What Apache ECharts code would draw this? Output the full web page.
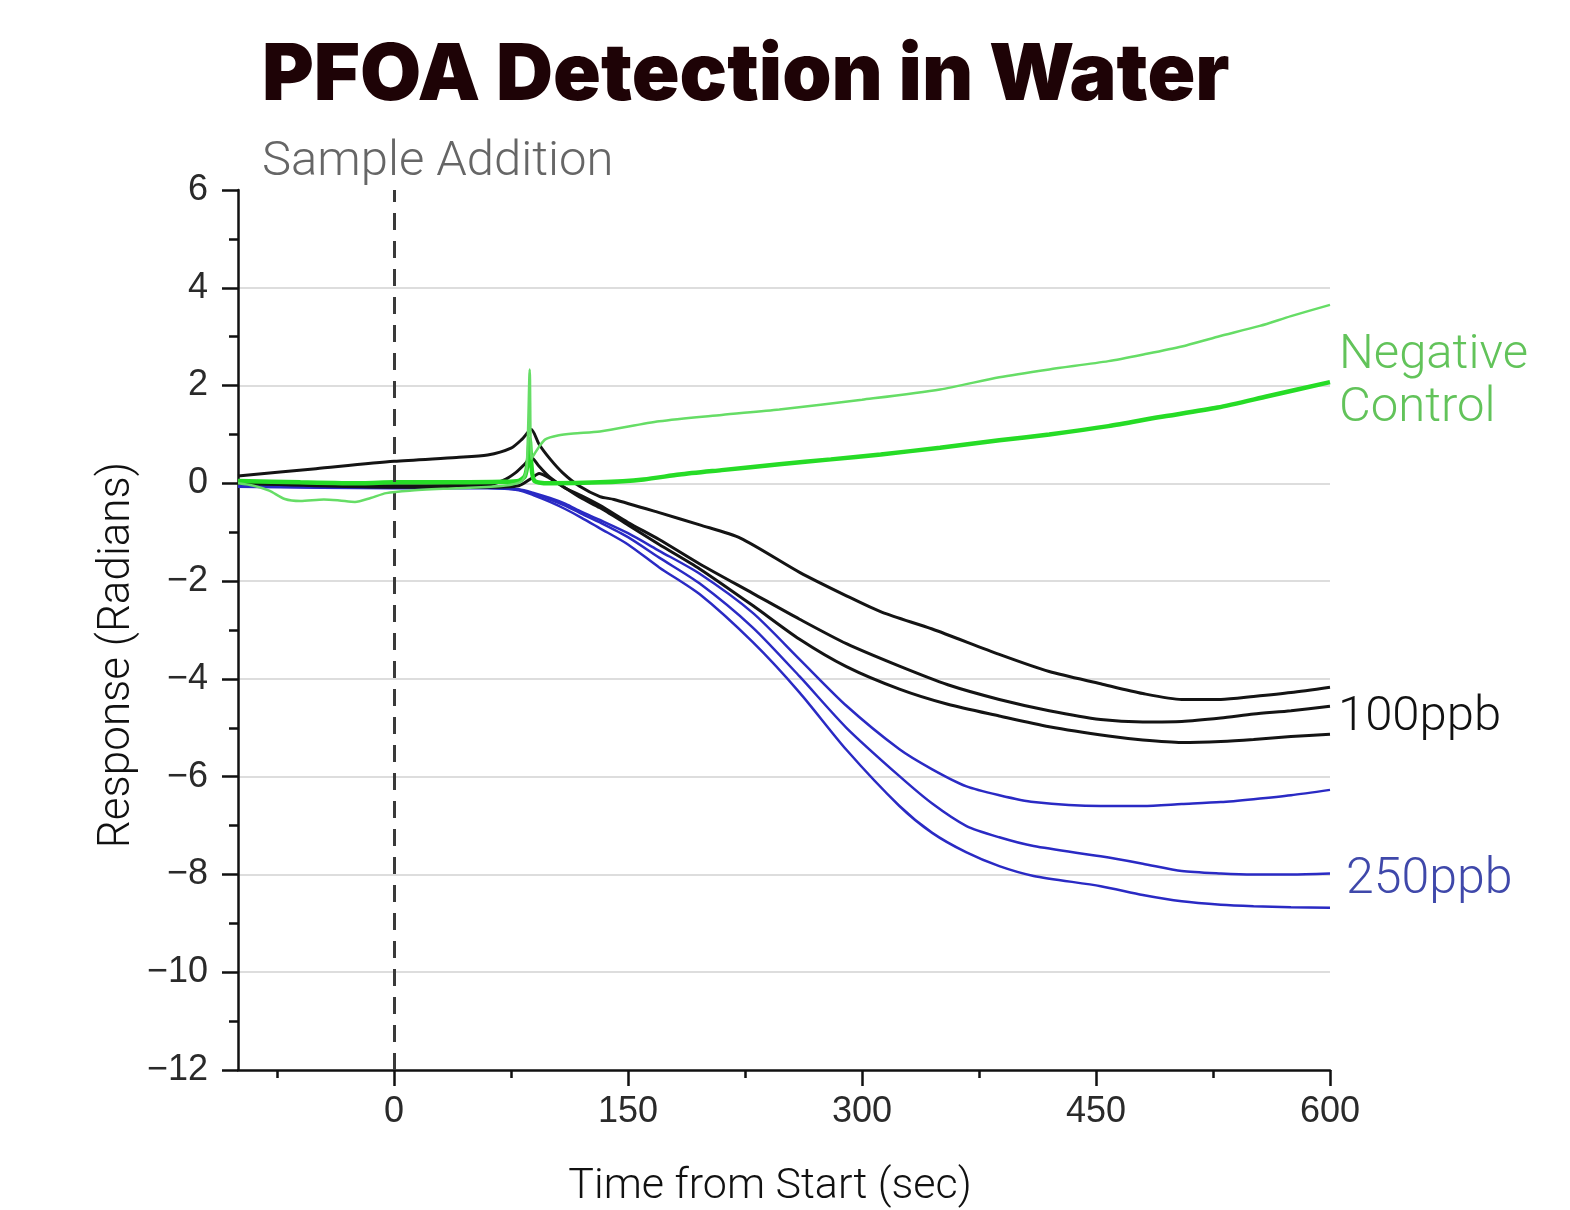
<!DOCTYPE html>
<html>
<head>
<meta charset="utf-8">
<script src="https://cdn.jsdelivr.net/npm/echarts@6/dist/echarts.min.js"></script>
<style>
html,body{margin:0;padding:0;background:#fff;}
#chart{width:1570px;height:1210px;}
</style>
</head>
<body>
<div id="chart"></div>
<script>
// ---- tick labels ----
const xMajorTicks = [0, 150, 300, 450, 600];
const xMinorTicks = [-75, 75, 225, 375, 525];

// ---- Negative control (thin, upper) ----
const negThinT = [-100, -90, -80, -70, -60, -45, -35, -25, -15, -5, 10, 40, 70, 82, 85, 87, 88, 90, 93, 97, 105, 115, 132, 170, 210, 247, 300, 350, 388, 420, 458, 481, 505, 528, 555, 575, 600];
const negThinY = [0.0, -0.05, -0.15, -0.32, -0.36, -0.33, -0.35, -0.38, -0.3, -0.2, -0.15, -0.1, -0.05, 0.05, 0.3, 2.33, 0.5, 0.6, 0.75, 0.9, 0.98, 1.02, 1.06, 1.27, 1.4, 1.51, 1.71, 1.92, 2.17, 2.33, 2.5, 2.64, 2.8, 3.0, 3.22, 3.42, 3.65];

// ---- Negative control (thick, lower) ----
const negThickT = [-100, -60, -20, 0, 40, 70, 80, 84, 86, 87, 88, 90, 100, 132, 160, 183, 210, 247, 280, 312, 350, 388, 420, 458, 490, 528, 560, 600];
const negThickY = [0.05, 0.02, 0.0, 0.02, 0.02, 0.03, 0.05, 0.15, 0.5, 0.9, 0.4, 0.05, 0.0, 0.02, 0.08, 0.18, 0.27, 0.39, 0.49, 0.59, 0.73, 0.88, 1.0, 1.17, 1.35, 1.55, 1.78, 2.07];

// ---- 100 ppb (black) ----
const b1T = [-100, -50, 0, 40, 60, 75, 82, 88, 93, 100, 108, 119, 132, 141, 170, 196, 222, 260, 290, 313, 345, 388, 420, 453, 480, 505, 530, 551, 575, 600];
const b1Y = [0.15, 0.3, 0.45, 0.53, 0.58, 0.72, 0.9, 1.1, 0.8, 0.5, 0.22, -0.06, -0.27, -0.33, -0.6, -0.85, -1.12, -1.82, -2.3, -2.64, -2.98, -3.5, -3.85, -4.1, -4.3, -4.42, -4.42, -4.36, -4.28, -4.17];

const b2T = [-100, 0, 60, 70, 78, 84, 88, 93, 100, 110, 120, 132, 150, 170, 196, 230, 260, 290, 324, 355, 388, 420, 453, 480, 505, 530, 551, 575, 600];
const b2Y = [0.0, -0.05, -0.03, 0.06, 0.22, 0.4, 0.53, 0.35, 0.12, -0.1, -0.25, -0.45, -0.8, -1.15, -1.65, -2.25, -2.78, -3.28, -3.74, -4.12, -4.42, -4.65, -4.83, -4.88, -4.87, -4.8, -4.72, -4.65, -4.56];

const b3T = [-100, 0, 60, 80, 88, 93, 100, 110, 120, 132, 150, 170, 196, 230, 260, 290, 324, 355, 388, 420, 458, 480, 505, 530, 551, 575, 600];
const b3Y = [0.0, -0.08, -0.08, -0.05, 0.1, 0.2, 0.1, -0.1, -0.3, -0.5, -0.85, -1.25, -1.75, -2.5, -3.19, -3.75, -4.21, -4.52, -4.76, -4.98, -5.17, -5.25, -5.3, -5.28, -5.24, -5.18, -5.13];

// ---- 250 ppb (blue) ----
const blueT = [-100, 0, 60, 80, 90, 100, 110, 120, 132, 150, 170, 196, 230, 260, 290, 324, 345, 367, 388, 410, 453, 480, 505, 530, 551, 575, 600];
const u1Y = [-0.06, -0.08, -0.08, -0.12, -0.2, -0.3, -0.42, -0.58, -0.75, -1.02, -1.38, -1.85, -2.65, -3.6, -4.55, -5.44, -5.85, -6.2, -6.38, -6.52, -6.6, -6.6, -6.56, -6.52, -6.46, -6.38, -6.27];
const u2Y = [-0.06, -0.09, -0.09, -0.13, -0.22, -0.33, -0.46, -0.62, -0.8, -1.1, -1.52, -2.05, -2.95, -3.95, -5.0, -5.99, -6.55, -7.01, -7.24, -7.42, -7.63, -7.78, -7.93, -7.98, -8.0, -8.0, -7.98];
const u3Y = [-0.07, -0.1, -0.1, -0.14, -0.25, -0.38, -0.53, -0.7, -0.92, -1.25, -1.72, -2.27, -3.25, -4.28, -5.45, -6.6, -7.15, -7.55, -7.83, -8.03, -8.24, -8.42, -8.55, -8.62, -8.65, -8.67, -8.68];

const pair = (T, Y) => T.map((t, i) => [t, Y[i]]);

const BLACK = '#141414', BLUE = '#2a2ac4', GREEN_THIN = '#66dd66', GREEN_THICK = '#26dc26';
const lineSeries = (name, T, Y, color, width, z) => ({
  name, type: 'line', data: pair(T, Y), showSymbol: false, symbol: 'none',
  smooth: 0.25, z: z,
  lineStyle: { color: color, width: width }, silent: true
});

const chart = echarts.init(document.getElementById('chart'), null, { renderer: 'canvas' });

const series = [
  lineSeries('250ppb a', blueT, u1Y, BLUE, 2.5, 2),
  lineSeries('250ppb b', blueT, u2Y, BLUE, 2.5, 2),
  lineSeries('250ppb c', blueT, u3Y, BLUE, 2.5, 2),
  lineSeries('100ppb a', b1T, b1Y, BLACK, 3, 3),
  lineSeries('100ppb b', b2T, b2Y, BLACK, 3, 3),
  lineSeries('100ppb c', b3T, b3Y, BLACK, 3, 3),
  lineSeries('Neg thick', negThickT, negThickY, GREEN_THICK, 4.5, 4),
  lineSeries('Neg thin', negThinT, negThinY, GREEN_THIN, 2.5, 5)
];
series[0].markLine = {
  silent: true, symbol: ['none', 'none'], label: { show: false },
  lineStyle: { color: '#3a3a3a', width: 3, type: [17, 11] },
  data: [{ xAxis: 0 }]
};

const tickFont = 'Liberation Sans';
chart.setOption({
  animation: false,
  backgroundColor: '#ffffff',
  title: [
    { text: 'PFOA Detection in Water', left: 257, top: 32,
      textStyle: { fontFamily: 'Inter', fontWeight: 900, fontSize: 79, color: '#1e0306' } },
    { text: 'Sample Addition', left: 257, top: 133,
      textStyle: { fontFamily: 'Roboto', fontWeight: 300, fontSize: 49, color: '#666666' } }
  ],
  graphic: [
    { type: 'text', x: 1339, y: 356, style: { text: 'Negative', fill: '#62c35a', font: '300 49px Roboto', textVerticalAlign: 'middle' } },
    { type: 'text', x: 1339, y: 409, style: { text: 'Control', fill: '#62c35a', font: '300 49px Roboto', textVerticalAlign: 'middle' } },
    { type: 'text', x: 1338, y: 718, style: { text: '100ppb', fill: '#111111', font: '300 49px Roboto', textVerticalAlign: 'middle' } },
    { type: 'text', x: 1346, y: 880, style: { text: '250ppb', fill: '#3f48aa', font: '300 50px Roboto', textVerticalAlign: 'middle' } },
    { type: 'text', x: 118, y: 655, rotation: Math.PI / 2,
      style: { text: 'Response (Radians)', fill: '#111111', font: '300 44px Roboto', textAlign: 'center', textVerticalAlign: 'middle' } },
    { type: 'text', x: 770, y: 1187,
      style: { text: 'Time from Start (sec)', fill: '#111111', font: '300 43px Roboto', textAlign: 'center', textVerticalAlign: 'middle' } }
  ],
  grid: { left: 238, right: 240, top: 190, bottom: 140, containLabel: false },
  xAxis: [
    {
      type: 'value', min: -100, max: 600, position: 'bottom',
      axisLine: { show: true, onZero: false, lineStyle: { color: '#111', width: 2.5 } },
      axisTick: { show: true, inside: false, length: 16, customValues: xMajorTicks, lineStyle: { color: '#111', width: 2.5 } },
      axisLabel: { show: true, customValues: xMajorTicks, margin: 24, fontFamily: tickFont, fontSize: 36, color: '#2a2a2a' },
      splitLine: { show: false }
    },
    {
      type: 'value', min: -100, max: 600, position: 'bottom',
      axisLine: { show: false, onZero: false },
      axisTick: { show: true, inside: false, length: 8, customValues: xMinorTicks, lineStyle: { color: '#111', width: 2.5 } },
      axisLabel: { show: false },
      splitLine: { show: false }
    }
  ],
  yAxis: {
    type: 'value', min: -12, max: 6, interval: 2,
    axisLine: { show: true, onZero: false, lineStyle: { color: '#111', width: 2.5 } },
    axisTick: { show: true, inside: false, length: 16, lineStyle: { color: '#111', width: 2.5 } },
    minorTick: { show: true, splitNumber: 2, length: 9, lineStyle: { color: '#111', width: 2.5 } },
    axisLabel: { margin: 30, fontFamily: tickFont, fontSize: 36, color: '#2a2a2a',
      formatter: v => (v < 0 ? '\u2212' + Math.abs(v) : String(v)) },
    splitLine: { show: true, showMaxLine: false, showMinLine: false, lineStyle: { color: '#dddddd', width: 2 } },
    minorSplitLine: { show: false }
  },
  series: series
});
</script>
</body>
</html>
